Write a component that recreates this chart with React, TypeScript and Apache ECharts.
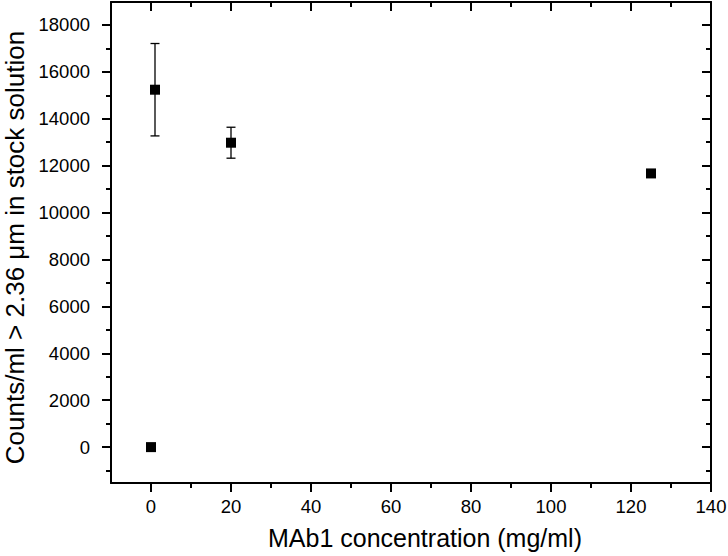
import React, { useEffect, useRef } from "react";
import * as echarts from "echarts";

const concentrations = [0, 1, 20, 125];
const counts = [0, 15240, 12980, 11670];
const errLow = [0, 13270, 12320, 11670];
const errHigh = [0, 17210, 13640, 11670];
const yMajor = [0, 2000, 4000, 6000, 8000, 10000, 12000, 14000, 16000, 18000];
const yMinor = [-1000, 1000, 3000, 5000, 7000, 9000, 11000, 13000, 15000, 17000];
const xMajor = [0, 20, 40, 60, 80, 100, 120, 140];
const xMinor = [10, 30, 50, 70, 90, 110, 130];

const FONT = "Liberation Sans, Arial, sans-serif";

export default function App() {
  const ref = useRef<HTMLDivElement>(null);
  useEffect(() => {
    const chart = echarts.init(ref.current!, null, { renderer: "svg" });
    const yMin = -1530, yMax = 18980, xMin = -10, xMax = 140;
    const lineStyle = { color: "#000", width: 2 };
    const fmt = (v: number) => String(v);
    const mkY = (pos: string, vals: number[], len: number, inside: boolean, labels: boolean, line: boolean, name?: string) => ({
      type: "value",
      position: pos,
      min: yMin,
      max: yMax,
      name: name,
      nameLocation: "middle",
      nameGap: 82,
      nameTextStyle: { fontFamily: FONT, fontSize: 26, color: "#000", padding: [0, 10, 0, 0] },
      axisLine: { show: line, onZero: false, lineStyle },
      axisTick: { show: true, customValues: vals, length: len, inside, lineStyle: { color: "#000", width: 2 } },
      axisLabel: labels
        ? { show: true, customValues: vals, formatter: fmt, margin: 21, fontFamily: FONT, fontSize: 18.5, color: "#000" }
        : { show: false },
      splitLine: { show: false },
    });
    const mkX = (pos: string, vals: number[], len: number, inside: boolean, labels: boolean, line: boolean, name?: string) => ({
      type: "value",
      position: pos,
      min: xMin,
      max: xMax,
      name: name,
      nameLocation: "middle",
      nameGap: 42,
      nameTextStyle: { fontFamily: FONT, fontSize: 25, color: "#000", padding: [0, 0, 0, 28] },
      axisLine: { show: line, onZero: false, lineStyle },
      axisTick: { show: true, customValues: vals, length: len, inside, lineStyle: { color: "#000", width: 2 } },
      axisLabel: labels
        ? { show: true, customValues: vals, formatter: fmt, margin: 14, fontFamily: FONT, fontSize: 18.5, color: "#000" }
        : { show: false },
      splitLine: { show: false },
    });
    const errData = concentrations
      .map((c, i) => [c, errLow[i], errHigh[i]])
      .filter((d) => d[1] !== d[2]);
    chart.setOption({
      animation: false,
      grid: { left: 111, right: 17, top: 2, bottom: 73, containLabel: false, outerBoundsMode: "none" },
      xAxis: [
        mkX("bottom", xMajor, 9, false, true, true, "MAb1 concentration (mg/ml)"),
        mkX("bottom", xMinor, 5, false, false, false),
        mkX("top", xMajor, 9, true, false, true),
        mkX("top", xMinor, 5, true, false, false),
      ],
      yAxis: [
        mkY("left", yMajor, 9, false, true, true, "Counts/ml > 2.36 μm in stock solution"),
        mkY("left", yMinor, 5, false, false, false),
        mkY("right", yMajor, 9, true, false, true),
        mkY("right", yMinor, 5, true, false, false),
      ],
      series: [
        {
          type: "custom",
          xAxisIndex: 0,
          yAxisIndex: 0,
          data: errData,
          renderItem: (params: any, api: any) => {
            const x = api.value(0);
            const lo = api.coord([x, api.value(1)]);
            const hi = api.coord([x, api.value(2)]);
            const cap = 4.5;
            const st = { stroke: "#000", lineWidth: 1.3 };
            return {
              type: "group",
              children: [
                { type: "line", shape: { x1: lo[0], y1: lo[1], x2: hi[0], y2: hi[1] }, style: st },
                { type: "line", shape: { x1: lo[0] - cap, y1: lo[1], x2: lo[0] + cap, y2: lo[1] }, style: st },
                { type: "line", shape: { x1: hi[0] - cap, y1: hi[1], x2: hi[0] + cap, y2: hi[1] }, style: st },
              ],
            };
          },
          z: 2,
        },
        {
          type: "scatter",
          xAxisIndex: 0,
          yAxisIndex: 0,
          symbol: "rect",
          symbolSize: 10,
          itemStyle: { color: "#000", opacity: 1 },
          data: concentrations.map((c, i) => [c, counts[i]]),
          z: 3,
        },
      ],
    });
    return () => chart.dispose();
  }, []);
  return <div ref={ref} style={{ width: 728, height: 556, position: "absolute", left: 0, top: 0 }} />;
}
